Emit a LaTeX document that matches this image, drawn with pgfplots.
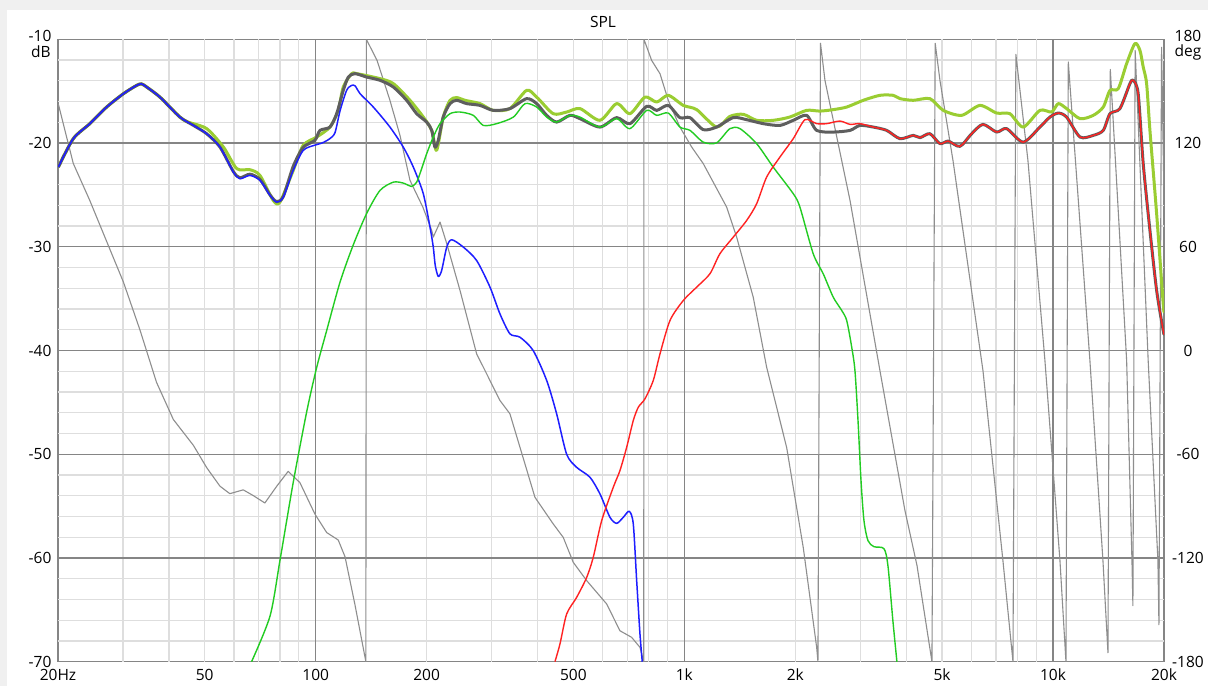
\documentclass[border=0pt]{standalone}
\usepackage{pgfplots}
\pgfplotsset{compat=1.18}
\usepackage{fontspec}
\setmainfont{Open Sans}

\definecolor{panel}{HTML}{F0F0F0}
\definecolor{gridlight}{HTML}{DEDEDE}
\definecolor{griddark}{HTML}{858585}
\definecolor{phasegray}{HTML}{8E8E8E}
\definecolor{sumgray}{HTML}{5E5E5E}
\definecolor{ygreen}{HTML}{9ACD32}
\definecolor{wblue}{HTML}{1E1EFF}
\definecolor{mgreen}{HTML}{22CC22}
\definecolor{tred}{HTML}{FF2222}

\newcommand\lbl{\fontsize{15.5}{18}\selectfont}

\begin{document}
\begin{tikzpicture}
\fill[panel] (0pt,0pt) rectangle (1208pt,-686pt);
\fill[white] (7pt,-10pt) rectangle (1208pt,-686pt);

% ---------- phase axis (right scale), grid and phase trace ----------
\begin{axis}[
  at={(58pt,-661.7pt)}, anchor=south west,
  scale only axis, width=1106pt, height=622.4pt,
  xmode=log, xmin=20, xmax=20000, ymin=-180, ymax=180,
  xtick=\empty,
  ytick={-180,-120,-60,0,60,120,180},
  yticklabels={-180,-120,-60,0,60,120,{}},
  yticklabel pos=right,
  major tick length=0pt,
  yticklabel style={anchor=center, xshift=24pt, font=\lbl, inner sep=0pt},
  axis line style={griddark, line width=1.2pt},
]
\pgfplotsinvokeforeach{30,40,50,60,70,80,90,200,300,400,500,600,700,800,900,2000,3000,4000,5000,6000,7000,8000,9000}{
  \draw[gridlight, line width=1.3pt] (axis cs:#1,-180) -- (axis cs:#1,180);}
\pgfplotsinvokeforeach{-168,-156,-144,-132,-108,-96,-84,-72,-48,-36,-24,-12,12,24,36,48,72,84,96,108,132,144,156,168}{
  \draw[gridlight, line width=1.3pt] (axis cs:20,#1) -- (axis cs:20000,#1);}
\pgfplotsinvokeforeach{100,1000,10000}{
  \draw[griddark, line width=1.2pt] (axis cs:#1,-180) -- (axis cs:#1,180);}
\pgfplotsinvokeforeach{-120,-60,0,60,120}{
  \draw[griddark, line width=1.2pt] (axis cs:20,#1) -- (axis cs:20000,#1);}

\addplot[phasegray, line width=1.1pt, line join=round] coordinates {
(20.04,142.5) (22.0,108.2) (24.4,86.7) (27.1,63.1) (30.1,39.5) (33.4,11.6)
(37.0,-18.4) (41.1,-39.9) (46.6,-54.9) (50.6,-67.7) (55.0,-78.5) (58.5,-82.8)
(63.6,-80.6) (67.7,-83.9) (72.8,-88.2) (78.4,-78.5) (84.2,-69.9) (90.6,-76.4)
(99.5,-94.6) (107.1,-105.3) (115.1,-109.6) (120.1,-119.3) (127.8,-147.1)
(136.8,-180) (137.2,180)
(146.7,167.8) (159.0,144.7) (169.3,124.4) (180.2,98.4) (195.4,82.8) (206.4,69.4)
(208.4,65.6) (217.4,74.3) (226.7,61.8) (246.3,34.7) (273.2,-1.9) (290.9,-13.5)
(316.0,-28.9) (336.4,-36.6) (358.2,-56.0) (393.3,-84.9) (440.8,-100.3)
(469.3,-108.1) (499.5,-122.5) (543.3,-133.1) (615.5,-146.6) (668.8,-162.1)
(719.4,-165.9) (757.9,-171.7) (776,-180) (777,180)
(815.2,167.8) (858.8,160.1) (904.4,144.7) (972.8,129.2) (1046.6,117.7)
(1125.2,108.1) (1302.6,82.9) (1386.2,65.6) (1537.6,30.8) (1671.8,-9.7)
(1894.2,-56.0) (2101,-113.9) (2284.8,-171.7) (2303,-180) (2340,177.7)
(2406,156.3) (2814,86.8) (3392,-11.6) (3966,-92.6) (4276,-124.4) (4694,-180)
(4790,177.7) (4934,156.3) (5352,110.0) (6456,-11.6) (7314,-121.6) (7786,-180)
(7930,171.3) (8548,110.0) (9506,-5.8) (10442,-121.6) (10840,-180)
(11000,166.9) (12590,-5.8) (13658,-121.6) (14092,-174.8)
(14300,162.6) (15836,-5.8) (16370,-121.6) (16468,-147.6)
(16700,173.6) (18118,-5.8) (19254,-121.6) (19376,-158.6)
(19700,175.4) (20000,86.8)
};
\end{axis}

% ---------- SPL axis (left scale) ----------
\begin{axis}[
  at={(58pt,-661.7pt)}, anchor=south west,
  scale only axis, width=1106pt, height=622.4pt,
  xmode=log, xmin=20, xmax=20000, ymin=-70, ymax=-10,
  axis line style={draw=none},
  xtick={20,50,100,200,500,1000,2000,5000,10000,20000},
  xticklabels={20Hz,50,100,200,500,1k,2k,5k,10k,20k},
  ytick={-70,-60,-50,-40,-30,-20,-10},
  yticklabels={-70,-60,-50,-40,-30,-20,{}},
  major tick length=0pt, minor tick length=0pt,
  xticklabel style={anchor=north, inner sep=0pt, yshift=-7pt, font=\lbl},
  yticklabel style={anchor=center, xshift=-18pt, font=\lbl, inner sep=0pt},
  every axis plot/.append style={smooth, tension=0.45, line join=round},
  clip=true,
]
% summed responses
\addplot[ygreen, line width=3pt] coordinates {
(20.04,-22.32) (22.0,-19.58) (24.4,-18.13) (27.1,-16.53) (30.1,-15.24)
(32.7,-14.44) (33.7,-14.30) (34.8,-14.60) (37.8,-15.57) (42.8,-17.49)
(45.1,-17.98) (50.6,-18.61) (56.2,-20.39) (61.1,-22.47) (66.3,-22.57)
(70.6,-23.12) (76.7,-25.53) (80.0,-25.69) (86.9,-22.64) (92.5,-20.22)
(100.6,-19.42) (109.3,-18.46) (115.1,-16.85) (118.8,-14.60) (125.2,-13.31)
(129.2,-13.31) (149.4,-13.79) (162.4,-14.27) (180.2,-15.88) (195.8,-17.49)
(206.4,-18.78) (212.8,-20.71) (221.8,-17.49) (231.4,-15.88) (241.2,-15.62)
(254,-15.88) (279,-16.20) (303,-16.85) (336.4,-16.68) (373.4,-14.92)
(397.6,-15.57) (440.8,-17.17) (479.4,-17.01) (521,-16.68) (590.2,-17.81)
(655.2,-16.20) (712,-17.17) (781.8,-15.57) (841.2,-16.05) (904.4,-15.40)
(993.2,-16.37) (1080,-16.78) (1223,-18.46) (1329,-17.43) (1444.6,-17.23)
(1570.6,-17.81) (1742,-17.81) (1933.4,-17.49) (2146,-16.85) (2332,-16.92)
(2534,-16.78) (2756,-16.53) (3058,-15.88) (3392,-15.40) (3686,-15.40)
(3844,-15.72) (4178,-15.88) (4634,-15.72) (5038,-16.85) (5650,-17.33)
(6336,-16.37) (7032,-17.11) (7638,-17.17) (8300,-18.46) (9212,-16.85)
(9912,-17.01) (10332,-16.20) (10884,-16.68) (11832,-17.65) (12854,-17.33)
(13684,-16.53) (14270,-14.92) (15026,-14.76) (15836,-12.34) (16680,-10.41)
(17206,-11.06) (17564,-12.67) (17940,-14.27) (18316,-18.78) (19100,-26.81)
(19900,-35.49) (20000,-36.2)
};
\addplot[sumgray, line width=3pt] coordinates {
(20.04,-22.32) (22.0,-19.58) (24.4,-18.13) (27.1,-16.53) (30.1,-15.24)
(32.7,-14.44) (33.7,-14.30) (34.8,-14.60) (37.8,-15.57) (42.8,-17.49)
(46.6,-18.30) (50.6,-19.10) (55.0,-20.39) (59.8,-22.75) (62.3,-23.35)
(66.3,-23.00) (70.6,-23.50) (75.2,-25.00) (78.4,-25.65) (81.7,-25.15)
(86.9,-22.25) (92.5,-20.42) (99.5,-19.74) (102.7,-18.78) (109.3,-18.46)
(114.0,-17.17) (118.8,-14.92) (122.6,-13.64) (127.8,-13.31) (137.5,-13.64)
(149.4,-13.95) (162.4,-14.60) (176.5,-15.88) (187.9,-17.17) (200.0,-17.98)
(206.4,-18.78) (210.6,-20.39) (215.0,-19.74) (221.8,-17.49) (231.4,-16.20)
(241.2,-15.88) (256.8,-16.20) (279.0,-16.37) (303.0,-16.85) (336.4,-16.68)
(373.4,-15.72) (397.6,-16.20) (423.2,-17.33) (450.4,-17.98) (489.4,-17.33)
(521.0,-17.65) (590.2,-18.46) (655.2,-17.55) (712.0,-18.13) (790.4,-16.46)
(841.2,-16.85) (904.4,-16.37) (972.8,-17.55) (1035.6,-17.55) (1125.2,-18.71)
(1223,-18.46) (1357.2,-17.55) (1475.8,-17.75) (1636.4,-18.13) (1816.6,-18.30)
(1973.8,-17.81) (2146,-17.33) (2284.8,-18.78) (2534,-18.94) (2814,-18.78)
(2994,-18.30) (3254,-18.46) (3538,-18.78) (3844,-19.58) (4178,-19.26)
(4356,-19.48) (4634,-19.10) (4934,-20.06) (5196,-19.81) (5590,-20.32)
(6016,-19.10) (6456,-18.20) (7032,-18.94) (7484,-18.61) (8300,-19.91)
(9212,-18.46) (9806,-17.50) (10332,-17.11) (10884,-17.50) (11832,-19.42)
(12854,-19.26) (13684,-18.78) (14270,-17.17) (15186,-16.68) (16166,-14.27)
(16502,-13.95) (17022,-15.24) (17564,-21.99) (18316,-28.42) (19100,-34.21)
(19900,-38.07) (20000,-38.4)
};
% woofer
\addplot[wblue, line width=1.5pt] coordinates {
(20.04,-22.32) (22.0,-19.58) (24.4,-18.13) (27.1,-16.53) (30.1,-15.24)
(32.7,-14.44) (33.7,-14.30) (34.8,-14.60) (37.8,-15.57) (42.8,-17.49)
(46.6,-18.30) (50.6,-19.10) (55.0,-20.39) (59.8,-22.80) (62.3,-23.44)
(66.3,-23.12) (70.6,-23.60) (75.2,-25.05) (78.4,-25.69) (81.7,-25.21)
(86.9,-22.64) (92.5,-20.71) (99.5,-20.20) (104,-20.00) (109,-19.60)
(112.8,-19.00) (116.4,-16.90) (121.3,-14.92) (125.2,-14.44) (128,-14.50)
(131.9,-15.24) (143.3,-16.53) (159.0,-18.46) (172.8,-20.39) (184.0,-22.32)
(195.8,-24.88) (204.2,-28.11) (208.4,-30.03) (211,-31.8) (215,-32.86)
(219.6,-32.28) (226.7,-30.03) (233.8,-29.32) (251.4,-30.03) (273.2,-31.32)
(297,-33.89) (316,-36.46) (336.4,-38.39) (358.2,-38.72) (389,-40.0)
(423.2,-42.89) (450.4,-46.11) (479.4,-50.0) (510.2,-51.26) (554.6,-52.22)
(590.2,-53.82) (628.4,-56.08) (655.2,-56.66) (682.8,-56.08) (708.8,-55.50)
(726.8,-56.72) (742.4,-62.18) (757.9,-67.33) (768.8,-70)
};
% midrange
\addplot[mgreen, line width=1.4pt] coordinates {
(67.0,-70) (75.2,-65.59) (80.0,-60.23) (86.9,-52.72) (94.5,-45.93)
(100.6,-41.64) (107.1,-38.07) (116.4,-33.41) (126.4,-29.83) (137.5,-26.78)
(149.4,-24.57) (162.4,-23.77) (172.8,-23.86) (182.1,-24.18) (187.9,-23.77)
(191.8,-22.95) (200,-21.03) (208.4,-19.42) (217.4,-18.13) (231.4,-17.17)
(246.3,-17.01) (267.6,-17.33) (284.8,-18.30) (309.7,-18.13) (343.6,-17.50)
(369.6,-16.20) (397.6,-16.53) (423.2,-17.50) (450.4,-17.98) (489.4,-17.33)
(521,-17.50) (590.2,-18.46) (655.2,-17.65) (712,-18.61) (790.4,-16.85)
(841.2,-17.33) (904.4,-17.11) (972.8,-18.46) (1035.6,-18.78) (1125.2,-19.91)
(1223,-19.98) (1329,-18.61) (1414.8,-18.61) (1570.6,-20.06) (1742,-22.32)
(1973.8,-24.88) (2058,-26.18) (2236,-30.67) (2380,-32.60) (2534,-34.86)
(2672,-36.14) (2756,-37.10) (2844,-39.68) (2902,-41.93) (2958,-46.75)
(3014,-52.54) (3070,-56.40) (3148,-58.33) (3268,-58.91) (3478,-59.10)
(3566,-60.74) (3678,-66.04) (3772,-70)
};
% tweeter
\addplot[tred, line width=1.4pt] coordinates {
(445.6,-70) (459.8,-68.29) (479.4,-65.40) (510.2,-63.80) (543.3,-61.87)
(566,-59.94) (596.6,-56.40) (641.4,-53.19) (668.8,-51.57) (697.4,-49.33)
(726.8,-46.75) (750,-45.47) (781.8,-44.66) (823.4,-42.89) (858.8,-40.32)
(914.2,-37.10) (993.2,-35.18) (1080,-33.89) (1173.2,-32.60) (1248.6,-30.67)
(1357.2,-29.07) (1475.8,-27.46) (1570.6,-25.85) (1671.8,-23.28)
(1816.6,-21.35) (1973.8,-19.58) (2124,-17.75) (2284.8,-18.13) (2432,-18.13)
(2642,-17.88) (2814,-18.20) (2994,-18.13) (3254,-18.46) (3538,-18.78)
(3844,-19.58) (4178,-19.26) (4356,-19.48) (4634,-19.10) (4934,-20.06)
(5196,-19.81) (5590,-20.32) (6016,-19.10) (6456,-18.20) (7032,-18.94)
(7484,-18.61) (8300,-19.91) (9212,-18.46) (9806,-17.50) (10332,-17.11)
(10884,-17.50) (11832,-19.42) (12854,-19.26) (13684,-18.78) (14270,-17.17)
(15186,-16.68) (16166,-14.27) (16502,-13.95) (17022,-15.24) (17564,-21.99)
(18316,-28.42) (19100,-34.21) (19900,-38.07) (20000,-38.4)
};
\end{axis}

\node[font=\lbl, inner sep=0pt] at (603pt,-22pt) {SPL};
\node[font=\lbl, inner sep=0pt] at (40pt,-36.3pt) {-10};
\node[font=\lbl, inner sep=0pt] at (41pt,-52pt) {dB};
\node[font=\lbl, inner sep=0pt] at (1188pt,-36.3pt) {180};
\node[font=\lbl, inner sep=0pt] at (1188pt,-52pt) {deg};
\end{tikzpicture}
\end{document}
